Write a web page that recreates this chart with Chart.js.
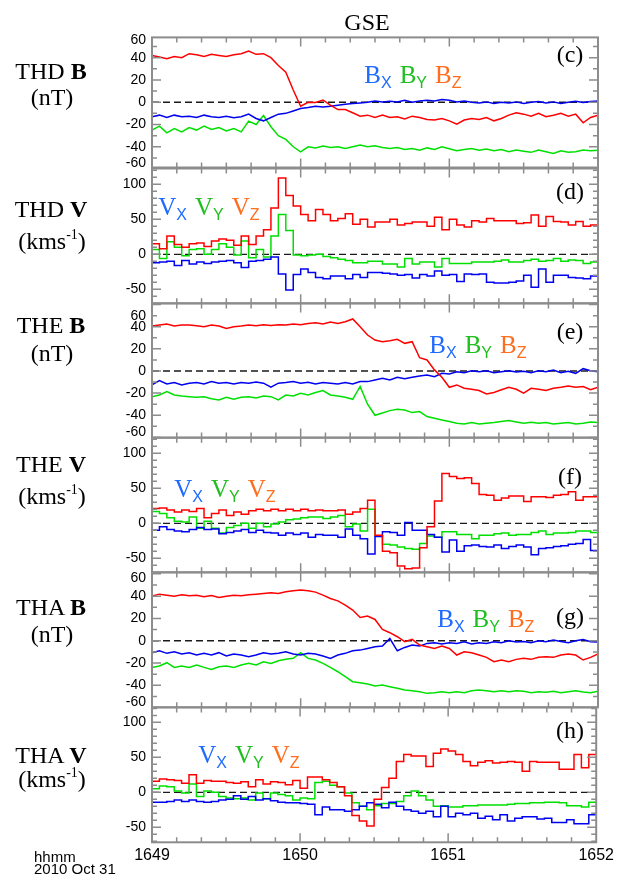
<!DOCTYPE html>
<html>
<head>
<meta charset="utf-8">
<script src="https://cdn.jsdelivr.net/npm/chart.js@4.4.1/dist/chart.umd.min.js"></script>
<style>
html,body{margin:0;padding:0;background:#ffffff;}
#fig{position:relative;width:618px;height:882px;overflow:hidden;background:#ffffff;}
#fig canvas{position:absolute;left:0;}
.txt{position:absolute;white-space:nowrap;color:#000;z-index:5;}
.serif{font-family:"Liberation Serif","Times New Roman",Times,serif;}
.sans{font-family:"Liberation Sans",Arial,Helvetica,sans-serif;}
.sup{font-size:14px;position:relative;top:-10px;}
</style>
</head>
<body>
<div id="fig"></div>
<script>
// ---------------- DATA ----------------
// time axis: seconds after 16:49:00 UT, 2010 Oct 31
const timeTickLabels = ['1649', '1650', '1651', '1652'];
const bTickLabels = ['-60', '-40', '-20', '0', '20', '40', '60'];
const vTickLabels = ['-50', '0', '50', '100'];
const bCadence = 3;   // s between magnetic field samples
const vCadence = 3;   // s per velocity (spin) bin

// THD B (nT), GSE
const thdBx = [-13,-11.6,-13.7,-11.6,-13,-12.5,-13.7,-11.6,-13,-13.7,-12.5,-14,-13,-10.7,-14.6,-16.7,-13.7,-10.7,-10,-7.8,-5.7,-4.8,-3.6,-4.2,-3.6,-2.7,-1.8,-1.2,-0.6,0,1.2,0.3,0.9,0.3,1.8,0,1.2,1.8,1.2,2.4,1.8,0.3,1.2,0,-0.6,0.3,-1.2,0,-0.6,0.3,-1.2,0,0.6,-0.6,0.3,-1.2,0,0.9,-0.3,0.6,1.2];
const thdBy = [-25,-21.5,-27.5,-23.6,-26.6,-22.7,-25,-21.5,-24.5,-22.7,-25.7,-23.6,-26.6,-17,-20,-12,-22,-30,-33.4,-40,-44.5,-40,-41,-39.4,-40.6,-40,-41.5,-40,-38.5,-40,-39,-40.6,-41.5,-40.6,-42.4,-41.5,-43,-41,-42.4,-40,-41.8,-43.6,-42.4,-41.5,-43,-42,-43.6,-42.4,-44.5,-43,-44,-45,-43,-44.5,-46,-43.6,-45,-44.5,-43,-43.6,-43];
const thdBz = [42,40.6,39,41,40,43.6,42.7,41,43,42,41,42.7,43.6,46,43,43.6,40,33,27,11,-3.6,0,-0.3,2,-2.7,-6.6,-6.6,-9.5,-12.5,-11.6,-13.7,-11.6,-13.7,-13,-15,-12.5,-13.7,-15.5,-16,-14.6,-16.7,-19.7,-16,-14.6,-15.5,-13.7,-16.7,-14.6,-11.6,-9.5,-10.7,-12.5,-10,-13,-11.6,-10,-12.5,-10.7,-18.5,-13.7,-11.6];

// THD V (km/s)
const thdVx = [-12,-11,-10,-16,-9,-14,-11,-13,-11,-10,-9,-12,-19,-10,-9,-7,-4,-28,-51,-29,-21,-26,-33,-35,-31,-31,-35,-29,-33,-26,-26,-27,-28,-30,-29,-34,-29,-31,-24,-30,-29,-39,-28,-29,-28,-40,-41,-41,-40,-38,-30,-47,-21,-40,-30,-30,-33,-34,-35,-31];
const thdVy = [7,-6,18,10,-2,7,8,0,7,15,10,-1,19,-5,7,-4,26,57,34,-1,-2,-1,0,-3,-5,-7,-9,-12,-12,-10,-10,-14,-14,-18,-6,-14,-11,-11,-18,-6,-13,-13,-13,-11,-11,-11,-10,-8,-11,-11,-9,-7,-10,-9,-6,-10,-8,-9,-13,-11];
const thdVz = [15,8,26,14,10,15,16,11,19,22,20,13,26,14,26,35,66,109,84,69,57,48,64,57,48,51,58,43,50,39,46,46,50,42,44,46,46,40,53,35,50,42,39,48,46,51,48,48,48,44,45,56,40,54,47,46,42,47,40,42];

// THE B (nT)
const theBx = [-12.6,-8.7,-11.7,-10.5,-12.6,-11,-10.5,-11.7,-9.6,-11,-10.5,-11.7,-10.5,-11,-9.9,-11,-14.7,-11,-10.5,-9.6,-11,-10.2,-11.7,-10.5,-11,-11.7,-10.5,-11.7,-9.6,-9.6,-8.1,-6.6,-8.1,-5.7,-6.9,-5.7,-4.5,-3.6,-5.1,-2.1,-2.7,-0.6,-1.5,0.3,-0.6,0.3,-1.5,-0.6,0.3,-0.9,-0.3,-1.5,0.3,-0.6,0.9,-1.5,-0.3,-2.1,2.1,0.3,-0.6];
const theBy = [-23.2,-21.7,-18.6,-21.7,-22.6,-23.2,-23.8,-23.2,-25,-26.2,-23.8,-25.6,-23.8,-23.2,-24.4,-22.6,-23.2,-26.2,-21.7,-22.6,-20.2,-21.7,-19.5,-17.7,-21.7,-22.6,-23.8,-25.6,-14,-30,-40,-38,-35.8,-34.6,-35.2,-37.6,-36.7,-41.2,-42.7,-44.2,-45.7,-47.2,-47.8,-46.6,-47.8,-47.2,-46.6,-45.7,-44.8,-46,-47.2,-46.3,-47.2,-46.6,-47.8,-47.2,-46.6,-47.8,-47.2,-46,-46.6];
const theBz = [40.6,41.5,42.4,40.6,41.5,41.5,41,40,41.5,40.6,38.5,40,40.6,41.5,41,41.8,41.2,41.8,41.5,42.4,41.8,43,43.6,42.4,44.2,43,44.5,47,40,32.5,28,26.5,27.4,28.6,25,26.5,12,10,1,-5.7,-14.7,-12.6,-15.6,-16.5,-17.7,-20.8,-19.5,-17,-14.7,-16.5,-20,-15.6,-16.5,-17.7,-15.6,-14.7,-13.5,-14.7,-14,-17,-14.7];

// THE V (km/s)
const theVx = [-10,-5,-9,-11,-12,-9,-6,-9,-8,-15,-13,-11,-9,-13,-10,-13,-14,-17,-14,-16,-14,-20,-16,-17,-17,-20,-8,-17,-22,-44,-19,-12,-13,-17,1,-10,-10,-16,-20,-41,-24,-40,-32,-31,-33,-34,-31,-36,-33,-31,-34,-45,-36,-35,-33,-32,-30,-29,-23,-39];
const theVy = [17,14,8,3,2,9,-7,3,-7,-14,-6,-3,0,-7,0,-5,-1,2,5,6,8,9,9,7,9,11,-5,-1,-11,20,-18,-30,-31,-34,-36,-37,-29,-18,-20,-12,-12,-16,-16,-22,-17,-17,-15,-14,-17,-16,-16,-13,-11,-16,-14,-14,-13,-11,-11,-13];
const theVz = [21,22,19,16,19,17,21,8,14,19,11,16,13,18,20,18,20,18,20,18,20,18,19,18,18,19,13,16,21,33,-17,-40,-42,-61,-65,-64,-35,-5,32,71,67,64,65,57,41,40,33,36,39,39,31,38,38,37,40,41,45,33,38,38];

// THA B (nT)
const thaBx = [-10.7,-9,-11.3,-9.9,-11.9,-10.7,-12.8,-11.3,-12.8,-10.7,-13.7,-11.9,-12.8,-14.3,-12.8,-10.7,-11.9,-11.3,-9.9,-11.9,-12.8,-11.3,-11.9,-13.7,-15.8,-12.8,-11.3,-9,-8.4,-6.9,-5.4,-4.8,2,-9,-6,-3.9,-4.8,-2.4,-1.8,-3,-1.8,-2.4,-0.9,-3,-1.8,-2.4,-0.9,-1.8,0,-1.2,-0.6,-1.8,0,-0.9,0.6,-0.6,-1.8,0,1.2,-0.9,-1.2];
const thaBy = [-23.9,-22.7,-19.7,-23.9,-22.7,-23.9,-21.8,-23.9,-25.7,-23.3,-22.7,-23.9,-21.8,-20.3,-21.8,-18.8,-20.3,-17.9,-16.7,-15.8,-10.7,-15.8,-17.3,-20.3,-23.9,-27.8,-32.2,-36.7,-37.6,-38.8,-40.6,-39.7,-41.2,-42.7,-44.2,-44.8,-45.7,-47.2,-46.6,-45.7,-46.6,-45.7,-46.6,-44.8,-44.2,-44.8,-45.7,-44.8,-45.7,-44.8,-45.4,-46.6,-45.7,-46.3,-45.4,-46.6,-45.7,-44.8,-46,-46.6,-45.4];
const thaBz = [40,41.8,40.9,40,41.2,40.3,40.9,39.4,40.6,38.8,40,40.9,40.3,41.2,41.8,42.4,43,42.4,43.9,44.8,45.4,44.8,43.6,40.9,37.9,35.8,32,27.5,20.9,22.1,19.1,10.1,7.2,3.6,-0.9,1.2,-3.9,-5.4,-6.9,-4.8,-6.9,-12.8,-9.9,-10.7,-12.8,-14.9,-18.8,-17.3,-18.8,-16.7,-15.8,-16.7,-14.9,-14.3,-14.9,-12.8,-11.9,-12.8,-17.3,-14.9,-11.9];

// THA V (km/s)
const thaVx = [-14,-14,-13,-11,-13,-11,-13,-14,-13,-11,-10,-5,-10,-6,-11,-9,-12,-14,-15,-15,-16,-17,-32,-21,-25,-25,-27,-25,-20,-15,-17,-22,-14,-20,-25,-27,-30,-27,-35,-20,-35,-30,-32,-30,-37,-34,-39,-32,-41,-37,-35,-35,-38,-37,-43,-43,-39,-45,-45,-32];
const thaVy = [5,9,8,2,-1,12,-6,2,0,-6,-8,-9,-8,-11,-1,-9,-1,-3,-5,-11,-8,-9,14,16,10,8,-1,-15,-20,-25,-19,-16,-16,-13,-5,2,-5,-11,-20,-19,-21,-21,-19,-19,-18,-18,-18,-18,-17,-16,-16,-15,-15,-14,-14,-15,-19,-19,-21,-14];
const thaVz = [16,19,18,17,13,25,13,17,16,16,14,13,15,8,18,12,15,14,11,17,6,22,22,18,14,8,-5,-33,-41,-48,-10,7,20,44,54,52,52,37,56,62,59,54,44,38,43,45,42,43,44,43,30,44,43,43,43,33,33,54,35,54];

// ---------------- LAYOUT / STYLE ----------------
const W = 618, PLOT_L = 152, PLOT_R = 598, MARGIN = 14, XAXIS_H = 40;
const RED = '#ff0000', BLUE = '#0000f0', GREEN = '#00e000';
const LEG = {X: '#1f6bff', Y: '#1fbf1f', Z: '#ff6e1f'};
const SANS = '"Liberation Sans", Arial, Helvetica, sans-serif';
Chart.defaults.font.family = SANS;

const panels = [
  {top: 37,    bottom: 167.5, yMin: -58.6, yMax: 58.2,  kind: 'B', x: thdBx, y: thdBy, z: thdBz, labelPos: [-54.6, -40, -20, 0, 20, 40, 55.5]},
  {top: 168.5, bottom: 303.3, yMin: -70,   yMax: 122.6, kind: 'V', x: thdVx, y: thdVy, z: thdVz, labelPos: [-50, 0, 50, 100]},
  {top: 303.3, bottom: 437.7, yMin: -60.2, yMax: 61.1,  kind: 'B', x: theBx, y: theBy, z: theBz, labelPos: [-55.7, -40, -20, 0, 20, 40, 49.9]},
  {top: 437.7, bottom: 572.3, yMin: -70,   yMax: 122.3, kind: 'V', x: theVx, y: theVy, z: theVz, labelPos: [-50, 0, 50, 100]},
  {top: 572.3, bottom: 707.3, yMin: -59.7, yMax: 61.3,  kind: 'B', x: thaBx, y: thaBy, z: thaBz, labelPos: [-55.2, -40, -20, 0, 20, 40, 56]},
  {top: 707.3, bottom: 842.3, yMin: -71.4, yMax: 121.4, kind: 'V', x: thaVx, y: thaVy, z: thaVz, labelPos: [-50, 0, 50, 100]}
];

function bSeries(vals) { return vals.map((v, k) => ({x: k * bCadence, y: v})); }
function vSeries(vals) {
  const pts = vals.map((v, k) => ({x: k * vCadence, y: v}));
  pts.push({x: vals.length * vCadence, y: vals[vals.length - 1]});
  return pts;
}

const framePlugin = {
  id: 'frame',
  beforeDatasetsDraw(chart) {
    const {ctx, chartArea: a, scales: {y}} = chart;
    const y0 = y.getPixelForValue(0);
    ctx.save();
    ctx.strokeStyle = '#1a1a1a'; ctx.lineWidth = 1.3; ctx.setLineDash([7, 4]);
    ctx.beginPath(); ctx.moveTo(a.left, y0); ctx.lineTo(a.right, y0); ctx.stroke();
    ctx.restore();
  },
  afterDatasetsDraw(chart, args, opts) {
    const {ctx, chartArea: a, scales: {x, y}} = chart;
    ctx.save();
    ctx.strokeStyle = '#8c8c8c'; ctx.lineWidth = 1.5;
    ctx.beginPath();
    for (let t = 10; t < 180; t += 10) {
      const px = x.getPixelForValue(t);
      const L = t % 60 === 0 ? 9 : 5;
      ctx.moveTo(px, a.top); ctx.lineTo(px, a.top + L);
      ctx.moveTo(px, a.bottom); ctx.lineTo(px, a.bottom - L);
    }
    for (let v = Math.ceil(y.min / 10) * 10; v < y.max; v += 10) {
      if (v <= y.min) continue;
      const py = y.getPixelForValue(v);
      const L = (v % opts.major === 0) ? 9 : 5;
      ctx.moveTo(a.left, py); ctx.lineTo(a.left + L, py);
      ctx.moveTo(a.right, py); ctx.lineTo(a.right - L, py);
    }
    ctx.stroke();
    ctx.lineWidth = 2;
    ctx.strokeRect(a.left, a.top, a.right - a.left, a.bottom - a.top);
    ctx.restore();
  }
};

const fig = document.getElementById('fig');

panels.forEach((p, i) => {
  const isLast = i === panels.length - 1;
  const cTop = Math.floor(p.top) - MARGIN;
  const H = Math.ceil(p.bottom) + (isLast ? XAXIS_H : MARGIN) - cTop;
  const padBottom = H - (p.bottom - cTop) - (isLast ? XAXIS_H : 0);
  const cv = document.createElement('canvas');
  cv.width = W; cv.height = H;
  cv.style.top = cTop + 'px'; cv.style.width = W + 'px'; cv.style.height = H + 'px';
  fig.appendChild(cv);
  const isV = p.kind === 'V';
  const ser = isV ? vSeries : bSeries;
  const labels = isV ? vTickLabels : bTickLabels;
  const ds = (vals, col) => ({data: ser(vals), borderColor: col, borderWidth: 1.5, pointRadius: 0, tension: 0, fill: false, stepped: isV ? true : false});
  const xScale = {
    type: 'linear', min: 0, max: 180, display: isLast,
    grid: {display: false, drawTicks: false}, border: {display: false},
    afterBuildTicks: s => { s.ticks = [0, 60, 120, 180].map(v => ({value: v})); },
    ticks: {autoSkip: false, maxRotation: 0, padding: 4, color: '#000', font: {family: SANS, size: 16},
            callback: (v, k) => timeTickLabels[k]}
  };
  if (isLast) xScale.afterFit = s => { s.height = XAXIS_H; };
  new Chart(cv, {
    type: 'line',
    data: {datasets: [ds(p.z, RED), ds(p.x, BLUE), ds(p.y, GREEN)]},
    options: {
      responsive: false, animation: false, devicePixelRatio: 1,
      layout: {padding: {left: 0, right: W - PLOT_R, top: p.top - cTop, bottom: padBottom}},
      plugins: {legend: {display: false}, tooltip: {enabled: false}, frame: {major: isV ? 50 : 20}},
      scales: {
        x: xScale,
        y: {
          min: p.yMin, max: p.yMax,
          grid: {display: false, drawTicks: false}, border: {display: false},
          afterFit: s => { s.width = PLOT_L; },
          afterBuildTicks: s => { s.ticks = p.labelPos.map(v => ({value: v})); },
          ticks: {autoSkip: false, padding: 6, color: '#000', font: {family: SANS, size: 14},
                  callback: (v, k) => labels[k]}
        }
      }
    },
    plugins: [framePlugin]
  });
});

// ---------------- TEXT ----------------
function addText(html, cls, css) {
  const d = document.createElement('div');
  d.className = 'txt ' + cls;
  d.innerHTML = html;
  Object.assign(d.style, css);
  fig.appendChild(d);
  return d;
}
function serifCentered(html, cx, base, size) {
  addText(html, 'serif', {left: (cx - 150) + 'px', width: '300px', textAlign: 'center',
    top: (base - 0.8375 * size) + 'px', fontSize: size + 'px', lineHeight: size + 'px'});
}

serifCentered('GSE', 367, 30, 24);

const sideLabels = [
  ['THD <b>B</b>', '(nT)', 79, 105.5],
  ['THD <b>V</b>', '(kms<span class="sup">-1</span>)', 217, 248.7],
  ['THE <b>B</b>', '(nT)', 333, 360.7],
  ['THE <b>V</b>', '(kms<span class="sup">-1</span>)', 472, 503.7],
  ['THA <b>B</b>', '(nT)', 615, 642.4],
  ['THA <b>V</b>', '(kms<span class="sup">-1</span>)', 763, 787.4]
];
sideLabels.forEach(s => { serifCentered(s[0], 51, s[2], 24); serifCentered(s[1], 52, s[3], 24); });

const panelTags = [['(c)', 62.4], ['(d)', 198.7], ['(e)', 338.7], ['(f)', 483.7], ['(g)', 623.7], ['(h)', 737.7]];
panelTags.forEach(t => serifCentered(t[0], 570, t[1], 24));

const legends = [['B', 364.3, 83.3], ['V', 158.3, 214.7], ['B', 429.3, 353.3], ['V', 174.3, 497], ['B', 437.2, 626.7], ['V', 198.3, 763.3]];
legends.forEach(l => {
  const html = ['X', 'Y', 'Z'].map((c, k) =>
    '<span style="color:' + LEG[c] + ';margin-right:' + (k < 2 ? 8 : 0) + 'px">' +
    '<span class="serif" style="font-size:25px">' + l[0] + '</span>' +
    '<span class="sans" style="font-size:16px;position:relative;top:5px">' + c + '</span></span>').join('');
  addText(html, 'serif', {left: l[1] + 'px', top: (l[2] - 0.8375 * 25) + 'px', fontSize: '25px', lineHeight: '25px'});
});

addText('hhmm', 'sans', {left: '34px', top: (861.7 - 0.8465 * 15) + 'px', fontSize: '15px', lineHeight: '15px'});
addText('2010 Oct 31', 'sans', {left: '34px', top: (874 - 0.8465 * 15) + 'px', fontSize: '15px', lineHeight: '15px'});
</script>
</body>
</html>
